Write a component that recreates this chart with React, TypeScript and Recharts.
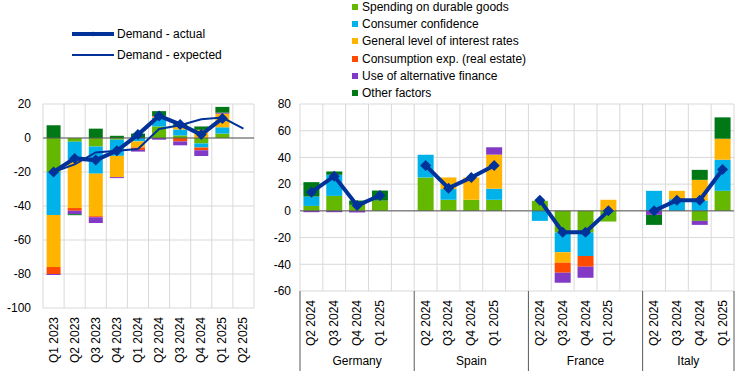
import { ComposedChart, Bar, Line, XAxis, YAxis, CartesianGrid, ReferenceLine } from "recharts";

const FONT = "'Liberation Sans', Arial, sans-serif";
const BLUE = "#003299";
const GRID = "#d9d9d9";
const AXIS = "#595959";

// euro area panel
const EA_QUARTERS = ["Q1 2023", "Q2 2023", "Q3 2023", "Q4 2023", "Q1 2024", "Q2 2024", "Q3 2024", "Q4 2024", "Q1 2025", "Q2 2025"];
const EA_SPENDING = [-20, -2.2, -5, -1, 0, 6.8, 1.5, -3.2, 2.6, null];
const EA_CONFIDENCE = [-25.3, -11, -16, -9.5, -2, 5.2, 3.5, -2.4, 3.7, null];
const EA_INTEREST = [-30.6, -28, -25, -12.5, -3.6, 0.5, 2, 4.8, 7.8, null];
const EA_CONSUMPTION = [-4.1, -1.6, -0.6, 0, -1.4, 0.5, -2, -1.6, 0.3, null];
const EA_ALTFIN = [-0.6, -2, -3.4, -0.6, -1, -1, -2.3, -3.4, 0.5, null];
const EA_OTHER = [7.5, -0.6, 5.5, 1.3, 2.6, 2.8, 1.5, 2, 3.4, null];
const EA_ACTUAL = [-20, -12, -13, -7.5, 2, 13, 8, 2, 11.5, null];
const EA_EXPECTED = [-20, -15.5, -8.5, -7.5, -6.5, 5.3, 7.5, 11, 12, 5.5];

// country panel: Germany, Spain, France, Italy x 4 quarters
const COUNTRIES = ["Germany", "Spain", "France", "Italy"];
const C_QUARTERS = ["Q2 2024", "Q3 2024", "Q4 2024", "Q1 2025"];
const C_SPENDING = [3.7, 11.2, 4.5, 7.7, 25, 8.3, 8.3, 8.3, 7.5, -16.3, -16.3, -8, 0, 0, -7.5, 15];
const C_CONFIDENCE = [7, 15.8, 0, 0, 17, 8, 0, 8.3, -7.5, -14.7, -17.5, 0, 15, 8.7, 7.7, 23.3];
const C_INTEREST = [0, 0, 0, 0, 0, 8.7, 16.7, 25.5, 0, -7.8, 0, 8.3, 0, 6.3, 15.5, 15.7];
const C_CONSUMPTION = [0, 0, 0, 0, 0, 0, 0, 0, 0, -7.5, -8, 0, 0, 0, 0, 0];
const C_ALTFIN = [-1, -1, -1.2, 0, 0, 0, 0, 5.5, 0, -7.5, -8.3, 0, -3, 0, -3, 0];
const C_OTHER = [10.8, 2.5, 3.2, 7.5, 0, 0, 0, 0, 0, 0, 0, 0, -7.5, 0, 7.5, 16];
const C_ACTUAL = [14, 26, 4, 11.5, 34, 17, 25, 34, 8, -16, -16, 0, 0, 8, 8, 31];

const SERIES = [
  { key: "spending", name: "Spending on durable goods", color: "#65B800" },
  { key: "confidence", name: "Consumer confidence", color: "#00B1EA" },
  { key: "interest", name: "General level of interest rates", color: "#FFB400" },
  { key: "consumption", name: "Consumption exp. (real estate)", color: "#FF4B00" },
  { key: "altfin", name: "Use of alternative finance", color: "#8139C6" },
  { key: "other", name: "Other factors", color: "#007816" },
];

const eaData = EA_QUARTERS.map((q, i) => ({
  q,
  spending: EA_SPENDING[i],
  confidence: EA_CONFIDENCE[i],
  interest: EA_INTEREST[i],
  consumption: EA_CONSUMPTION[i],
  altfin: EA_ALTFIN[i],
  other: EA_OTHER[i],
  actual: EA_ACTUAL[i],
  expected: EA_EXPECTED[i],
}));

type Row = { q: string; group: number; first: boolean; span: number; [k: string]: any };
const cData: Row[] = [];
COUNTRIES.forEach((_, ci) => {
  const span = ci < COUNTRIES.length - 1 ? C_QUARTERS.length + 1 : C_QUARTERS.length;
  C_QUARTERS.forEach((q, qi) => {
    const i = ci * C_QUARTERS.length + qi;
    cData.push({
      q,
      group: ci,
      first: qi === 0,
      span,
      spending: C_SPENDING[i],
      confidence: C_CONFIDENCE[i],
      interest: C_INTEREST[i],
      consumption: C_CONSUMPTION[i],
      altfin: C_ALTFIN[i],
      other: C_OTHER[i],
      actual: C_ACTUAL[i],
    });
  });
  if (ci < COUNTRIES.length - 1) cData.push({ q: "", group: ci, first: false, span });
});

const R_WIDTH = 484;
const R_YAXIS = 40;
const R_RIGHT = 10;
const R_CAT = (R_WIDTH - R_YAXIS - R_RIGHT) / cData.length;

const Diamond = (p: any) => {
  const { cx, cy, index, value } = p;
  if (cx == null || cy == null || value == null) return <g key={index} />;
  const s = 5.5;
  return <path key={index} d={`M${cx},${cy - s}L${cx + s},${cy}L${cx},${cy + s}L${cx - s},${cy}Z`} fill={BLUE} />;
};

const boundaries = (n: number) => ({ offset }: any) =>
  Array.from({ length: n + 1 }, (_, i) => offset.left + (i * offset.width) / n);

const QuarterTick = (p: any) => {
  const { x, y, payload } = p;
  const ty = y + 9;
  return (
    <text x={x} y={ty} transform={`rotate(-90, ${x}, ${ty})`} textAnchor="end" dominantBaseline="central" fontSize={12} fill="#000">
      {payload.value}
    </text>
  );
};

const CountryTick = (p: any) => {
  const { x, y, payload, index } = p;
  const row = cData[index];
  const ty = y + 9;
  const left = x - R_CAT / 2;
  return (
    <g>
      {payload.value ? (
        <text x={x} y={ty} transform={`rotate(-90, ${x}, ${ty})`} textAnchor="end" dominantBaseline="central" fontSize={12} fill="#000">
          {payload.value}
        </text>
      ) : null}
      {row && row.first ? (
        <>
          <line x1={left} x2={left} y1={y} y2={y + 80} stroke={AXIS} />
          <text x={left + (row.span * R_CAT) / 2} y={y + 74} textAnchor="middle" fontSize={12} fill="#000">
            {COUNTRIES[row.group]}
          </text>
        </>
      ) : null}
      {index === cData.length - 1 ? <line x1={x + R_CAT / 2} x2={x + R_CAT / 2} y1={y} y2={y + 80} stroke={AXIS} /> : null}
    </g>
  );
};

const bars = () =>
  SERIES.map((s) => <Bar key={s.key} dataKey={s.key} stackId="a" fill={s.color} isAnimationActive={false} />);

export default function App() {
  return (
    <div style={{ position: "absolute", left: 0, top: 0, width: 744, height: 385, background: "#fff", fontFamily: FONT }}>
      <div style={{ position: "absolute", left: 0, top: 0 }}>
        <ComposedChart width={260} height={385} data={eaData} stackOffset="sign" barCategoryGap="17%" margin={{ top: 104, right: 6, bottom: 0, left: 0 }}>
          <CartesianGrid stroke={GRID} verticalCoordinatesGenerator={boundaries(eaData.length)} />
          <XAxis dataKey="q" interval={0} height={77} tickSize={0} tickMargin={0} axisLine={false} tickLine={false} tick={<QuarterTick />} />
          <YAxis domain={[-100, 20]} ticks={[-100, -80, -60, -40, -20, 0, 20]} interval={0} width={43} axisLine={false} tickLine={false} tickSize={6} tickMargin={6} tick={{ fontSize: 12, fill: "#000" }} />
          {bars()}
          <ReferenceLine y={0} stroke={AXIS} />
          <Line dataKey="expected" stroke={BLUE} strokeWidth={2} dot={false} isAnimationActive={false} />
          <Line dataKey="actual" stroke={BLUE} strokeWidth={4} dot={<Diamond />} activeDot={false} isAnimationActive={false} />
        </ComposedChart>
      </div>
      <div style={{ position: "absolute", left: 260, top: 0 }}>
        <ComposedChart width={R_WIDTH} height={385} data={cData} stackOffset="sign" barCategoryGap="15%" margin={{ top: 104, right: R_RIGHT, bottom: 0, left: 0 }}>
          <CartesianGrid stroke={GRID} verticalCoordinatesGenerator={boundaries(cData.length)} />
          <XAxis dataKey="q" interval={0} height={94} tickSize={0} tickMargin={0} axisLine={false} tickLine={false} tick={<CountryTick />} />
          <YAxis domain={[-60, 80]} ticks={[-60, -40, -20, 0, 20, 40, 60, 80]} interval={0} width={R_YAXIS} axisLine={false} tickLine={false} tickSize={6} tickMargin={3} tick={{ fontSize: 12, fill: "#000" }} />
          {bars()}
          <ReferenceLine y={0} stroke={AXIS} />
          <Line dataKey="actual" stroke={BLUE} strokeWidth={4} dot={<Diamond />} activeDot={false} isAnimationActive={false} />
        </ComposedChart>
      </div>
      {/* line legend */}
      <svg style={{ position: "absolute", left: 70, top: 24 }} width={46} height={40}>
        <line x1={2} x2={44} y1={10} y2={10} stroke={BLUE} strokeWidth={4} />
        <path d="M23,7.5L25.5,10L23,12.5L20.5,10Z" fill={BLUE} />
        <line x1={2} x2={44} y1={31} y2={31} stroke={BLUE} strokeWidth={2} />
      </svg>
      <div style={{ position: "absolute", left: 117, top: 26, fontSize: 12, lineHeight: "16px", color: "#000" }}>Demand - actual</div>
      <div style={{ position: "absolute", left: 117, top: 47, fontSize: 12, lineHeight: "16px", color: "#000" }}>Demand - expected</div>
      {/* factor legend */}
      {SERIES.map((s, i) => (
        <div key={s.key} style={{ position: "absolute", left: 352, top: i * 17.2 - 1, height: 16, display: "flex", alignItems: "center", fontSize: 12, color: "#000", whiteSpace: "nowrap" }}>
          <span style={{ display: "inline-block", width: 6, height: 6, background: s.color, marginRight: 4 }} />
          {s.name}
        </div>
      ))}
    </div>
  );
}
